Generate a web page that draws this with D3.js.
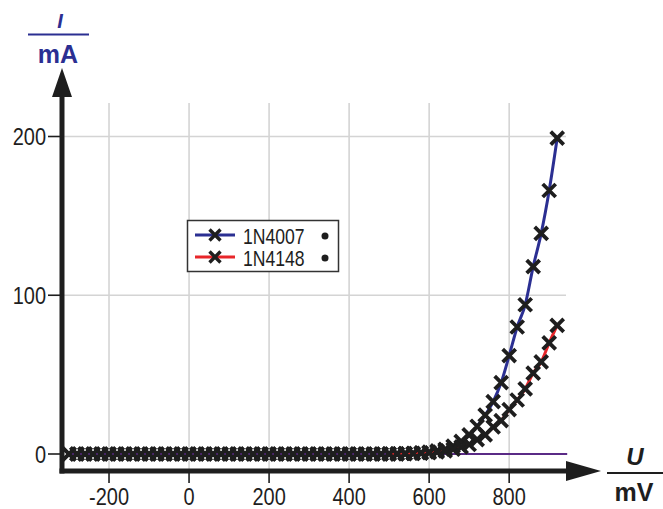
<!DOCTYPE html>
<html>
<head>
<meta charset="utf-8">
<script src="https://cdn.jsdelivr.net/npm/d3@7"></script>
<style>
  body { margin: 0; background: #fff; }
  svg text { font-family: "Liberation Sans", Arial, sans-serif; }
</style>
</head>
<body>
<svg id="chart" width="663" height="509"></svg>
<script>
// voltages in mV (same sweep for both diodes)
const voltages = [-300, -280, -260, -240, -220, -200, -180, -160, -140, -120, -100, -80, -60, -40, -20,
    0, 20, 40, 60, 80, 100, 120, 140, 160, 180, 200, 220, 240, 260, 280, 300, 320, 340, 360, 380,
    400, 420, 440, 460, 480, 500, 520, 540, 560, 580, 600, 620, 640, 660, 680, 700, 720, 740, 760,
    780, 800, 820, 840, 860, 880, 900, 920];
// currents in mA
const current1N4007 = [0, 0, 0, 0, 0, 0, 0, 0, 0, 0, 0, 0, 0, 0, 0,
    0, 0, 0, 0, 0, 0, 0, 0, 0, 0, 0, 0, 0, 0, 0, 0, 0, 0, 0, 0,
    0, 0, 0, 0, 0, 0.05, 0.1, 0.2, 0.4, 0.7, 1.2, 2, 3, 5, 8, 12, 17.5, 24.5, 33,
    45, 62, 80, 94, 118, 139, 166, 199];
const current1N4148 = [0, 0, 0, 0, 0, 0, 0, 0, 0, 0, 0, 0, 0, 0, 0,
    0, 0, 0, 0, 0, 0, 0, 0, 0, 0, 0, 0, 0, 0, 0, 0, 0, 0, 0, 0,
    0, 0, 0, 0, 0, 0.05, 0.1, 0.2, 0.3, 0.5, 0.8, 1.3, 2, 3, 4.5, 6, 9, 12, 17,
    21, 28, 34, 41, 51, 58, 70, 81];
const seriesNames = ["1N4007", "1N4148"];
const seriesColors = ["#2b2f92", "#e8262a"];
const xTicks = [-200, 0, 200, 400, 600, 800];
const yTicks = [0, 100, 200];

const svg = d3.select("#chart");
const x = d3.scaleLinear().domain([-315, 942]).range([63, 566]);
const y = d3.scaleLinear().domain([0, 200]).range([454, 136.5]);
const gridTop = 103;
const axisY = 471;
const axisX = 62;
const ink = "#1e1e1e";

// grid
svg.append("g")
    .selectAll("line")
    .data(xTicks)
    .join("line")
    .attr("x1", (d) => x(d)).attr("x2", (d) => x(d))
    .attr("y1", gridTop).attr("y2", axisY)
    .attr("stroke", "#d4d4d4").attr("stroke-width", 1.6);
svg.append("g")
    .selectAll("line")
    .data(yTicks.filter((d) => d > 0))
    .join("line")
    .attr("x1", axisX).attr("x2", x(942))
    .attr("y1", (d) => y(d)).attr("y2", (d) => y(d))
    .attr("stroke", "#d4d4d4").attr("stroke-width", 1.6);

// zero line
svg.append("line")
    .attr("x1", x(-300)).attr("x2", x(945))
    .attr("y1", y(0)).attr("y2", y(0))
    .attr("stroke", "#5a2a86").attr("stroke-width", 2.2);

// axes with arrows
svg.append("line")
    .attr("x1", axisX).attr("x2", axisX)
    .attr("y1", axisY + 2.5).attr("y2", 92)
    .attr("stroke", ink).attr("stroke-width", 5);
svg.append("path")
    .attr("d", `M${axisX - 10},97 L${axisX},68 L${axisX + 10},97 Z`)
    .attr("fill", ink);
svg.append("line")
    .attr("x1", axisX - 2.5).attr("x2", 570)
    .attr("y1", axisY).attr("y2", axisY)
    .attr("stroke", ink).attr("stroke-width", 5);
svg.append("path")
    .attr("d", `M566,${axisY - 10} L601,${axisY} L566,${axisY + 10} Z`)
    .attr("fill", ink);

// ticks (labels squeezed horizontally to mimic a condensed face)
svg.append("g")
    .selectAll("line")
    .data(xTicks)
    .join("line")
    .attr("x1", (d) => x(d)).attr("x2", (d) => x(d))
    .attr("y1", axisY + 2).attr("y2", axisY + 12)
    .attr("stroke", ink).attr("stroke-width", 1.6);
svg.append("g")
    .selectAll("text")
    .data(xTicks)
    .join("text")
    .attr("transform", (d) => `translate(${x(d)},504.5) scale(0.85,1)`)
    .attr("text-anchor", "middle")
    .attr("font-size", 23.5)
    .attr("fill", ink)
    .text((d) => d);
svg.append("g")
    .selectAll("line")
    .data(yTicks)
    .join("line")
    .attr("x1", 48).attr("x2", axisX)
    .attr("y1", (d) => y(d)).attr("y2", (d) => y(d))
    .attr("stroke", ink).attr("stroke-width", 1.6);
svg.append("g")
    .selectAll("text")
    .data(yTicks)
    .join("text")
    .attr("transform", (d) => `translate(46,${y(d) + 8.5}) scale(0.85,1)`)
    .attr("text-anchor", "end")
    .attr("font-size", 23.5)
    .attr("fill", ink)
    .text((d) => d);

// axis titles
const yTitle = svg.append("g").attr("fill", "#2b2f92");
yTitle.append("text").attr("x", 60).attr("y", 28).attr("text-anchor", "middle")
    .attr("font-size", 20).attr("font-weight", "bold").attr("font-style", "italic").text("I");
yTitle.append("line").attr("x1", 28).attr("x2", 89).attr("y1", 34.5).attr("y2", 34.5)
    .attr("stroke", "#2b2f92").attr("stroke-width", 2);
yTitle.append("text").attr("x", 58).attr("y", 63).attr("text-anchor", "middle")
    .attr("font-size", 25).attr("font-weight", "bold").text("mA");

const xTitle = svg.append("g").attr("fill", ink);
xTitle.append("text").attr("x", 635).attr("y", 465).attr("text-anchor", "middle")
    .attr("font-size", 24).attr("font-weight", "bold").attr("font-style", "italic").text("U");
xTitle.append("line").attr("x1", 607).attr("x2", 663).attr("y1", 473).attr("y2", 473)
    .attr("stroke", ink).attr("stroke-width", 2);
xTitle.append("text").attr("x", 634).attr("y", 501).attr("text-anchor", "middle")
    .attr("font-size", 25).attr("font-weight", "bold").text("mV");

// series
const series = [current1N4007, current1N4148].map((vals, i) => ({
    name: seriesNames[i],
    color: seriesColors[i],
    points: voltages.map((v, j) => ({ u: v, i: vals[j] }))
}));

const line = d3.line().x((d) => x(d.u)).y((d) => y(d.i)).curve(d3.curveMonotoneX);
svg.append("g")
    .selectAll("path")
    .data(series)
    .join("path")
    .attr("d", (d) => line(d.points.filter((p) => p.i > 0)))
    .attr("fill", "none")
    .attr("stroke", (d) => d.color)
    .attr("stroke-width", 3);

const cross = (cx, cy, s) => `M${cx - s},${cy - s}L${cx + s},${cy + s}M${cx - s},${cy + s}L${cx + s},${cy - s}`;
svg.append("g")
    .selectAll("path")
    .data(series.flatMap((s) => s.points))
    .join("path")
    .attr("d", (d) => cross(x(d.u), y(d.i), 6.5))
    .attr("stroke", ink)
    .attr("stroke-width", 3.8)
    .attr("fill", "none");

// legend
const legend = svg.append("g");
legend.append("rect")
    .attr("x", 187.5).attr("y", 220.5).attr("width", 151).attr("height", 51)
    .attr("fill", "#fff").attr("stroke", "#333").attr("stroke-width", 1.5);
const rows = legend.selectAll("g.row")
    .data(series)
    .join("g")
    .attr("class", "row")
    .attr("transform", (d, i) => `translate(0,${235 + i * 22})`);
rows.append("line")
    .attr("x1", 195).attr("x2", 235).attr("y1", 0).attr("y2", 0)
    .attr("stroke", (d) => d.color).attr("stroke-width", 3);
rows.append("path")
    .attr("d", cross(215, 0, 5.5))
    .attr("stroke", ink).attr("stroke-width", 3.4);
rows.append("text")
    .attr("transform", "translate(243,8.5) scale(0.8,1)")
    .attr("font-size", 22)
    .attr("fill", ink)
    .text((d) => d.name);
rows.append("circle")
    .attr("cx", 325).attr("cy", 1).attr("r", 3.5)
    .attr("fill", ink);
</script>
</body>
</html>
